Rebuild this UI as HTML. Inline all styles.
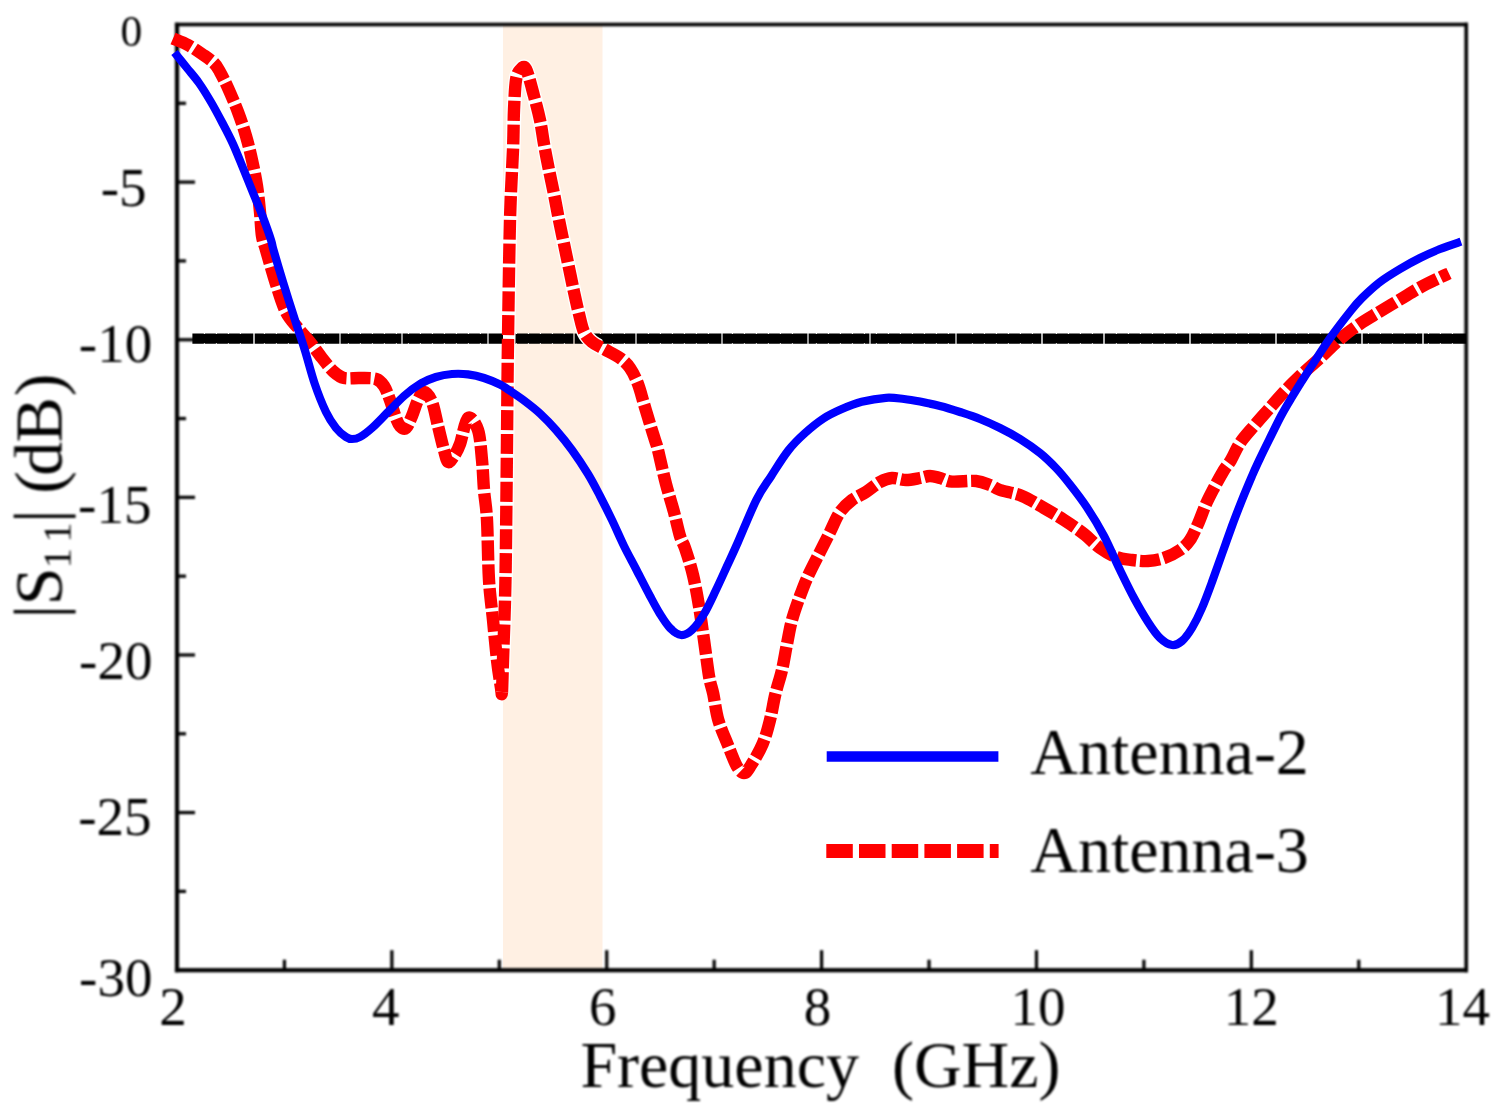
<!DOCTYPE html>
<html lang="en"><head><meta charset="utf-8"><title>|S11| (dB) versus Frequency (GHz)</title>
<style>
html,body{margin:0;padding:0;background:#fff;}
body{width:1502px;height:1115px;overflow:hidden;}
svg{display:block;}
text{font-family:"Liberation Serif","DejaVu Serif",serif;fill:#000;white-space:pre;}
</style></head><body>
<svg width="1502" height="1115" viewBox="0 0 1502 1115">
<defs><filter id="b" x="-5%" y="-5%" width="110%" height="110%"><feGaussianBlur stdDeviation="0.8"/></filter><filter id="c" x="-5%" y="-5%" width="110%" height="110%"><feGaussianBlur stdDeviation="0.45"/></filter><clipPath id="bandclip"><rect x="503" y="26" width="99.5" height="942"/></clipPath></defs>
<rect width="1502" height="1115" fill="#fff"/>
<rect x="503" y="24.5" width="99.5" height="945.7" fill="#fff0e3"/>
<g filter="url(#b)">
<g fill="#000">
<rect x="174.90" y="22.70" width="4.20" height="949.60"/>
<rect x="1464.40" y="22.70" width="3.60" height="949.60"/>
<rect x="174.90" y="22.70" width="1293.10" height="3.60"/>
<rect x="174.90" y="968.10" width="1293.10" height="4.20"/>
<rect x="282.83" y="959.70" width="3.20" height="10.50"/>
<rect x="390.27" y="950.20" width="3.20" height="20.00"/>
<rect x="497.70" y="959.70" width="3.20" height="10.50"/>
<rect x="605.13" y="950.20" width="3.20" height="20.00"/>
<rect x="712.57" y="959.70" width="3.20" height="10.50"/>
<rect x="820.00" y="950.20" width="3.20" height="20.00"/>
<rect x="927.43" y="959.70" width="3.20" height="10.50"/>
<rect x="1034.87" y="950.20" width="3.20" height="20.00"/>
<rect x="1142.30" y="959.70" width="3.20" height="10.50"/>
<rect x="1249.73" y="950.20" width="3.20" height="20.00"/>
<rect x="1357.17" y="959.70" width="3.20" height="10.50"/>
<rect x="177.00" y="101.71" width="9.00" height="3.20"/>
<rect x="177.00" y="180.52" width="18.00" height="3.20"/>
<rect x="177.00" y="259.32" width="9.00" height="3.20"/>
<rect x="177.00" y="338.13" width="18.00" height="3.20"/>
<rect x="177.00" y="416.94" width="9.00" height="3.20"/>
<rect x="177.00" y="495.75" width="18.00" height="3.20"/>
<rect x="177.00" y="574.56" width="9.00" height="3.20"/>
<rect x="177.00" y="653.37" width="18.00" height="3.20"/>
<rect x="177.00" y="732.17" width="9.00" height="3.20"/>
<rect x="177.00" y="810.98" width="18.00" height="3.20"/>
<rect x="177.00" y="889.79" width="9.00" height="3.20"/>
</g>
</g>
<g filter="url(#c)">
<path d="M192.4 338.7H253.3M254.7 338.7H339.4M340.6 338.7H401.4M402.6 338.7H487.4M488.6 338.7H573.4M574.6 338.7H635.4M636.6 338.7H721.4M722.6 338.7H807.4M808.6 338.7H869.4M870.6 338.7H955.4M956.6 338.7H1041.3M1042.7 338.7H1103.3M1104.7 338.7H1189.3M1190.7 338.7H1275.3M1276.7 338.7H1361.3M1362.7 338.7H1422.3M1423.7 338.7H1466.2" fill="none" stroke="#000" stroke-width="10.2"/>
<path d="M204.4 333.1v1.0M204.4 344.3v-1.0M216.4 333.1v1.0M216.4 344.3v-1.0M228.4 333.1v1.0M228.4 344.3v-1.0M240.4 333.1v1.0M240.4 344.3v-1.0M264.4 333.1v1.0M264.4 344.3v-1.0M276.4 333.1v1.0M276.4 344.3v-1.0M288.4 333.1v1.0M288.4 344.3v-1.0M300.4 333.1v1.0M300.4 344.3v-1.0M312.4 333.1v1.0M312.4 344.3v-1.0M324.4 333.1v1.0M324.4 344.3v-1.0M348.4 333.1v1.0M348.4 344.3v-1.0M360.4 333.1v1.0M360.4 344.3v-1.0M372.4 333.1v1.0M372.4 344.3v-1.0M384.4 333.1v1.0M384.4 344.3v-1.0M396.4 333.1v1.0M396.4 344.3v-1.0M408.4 333.1v1.0M408.4 344.3v-1.0M420.4 333.1v1.0M420.4 344.3v-1.0M432.4 333.1v1.0M432.4 344.3v-1.0M444.4 333.1v1.0M444.4 344.3v-1.0M456.4 333.1v1.0M456.4 344.3v-1.0M468.4 333.1v1.0M468.4 344.3v-1.0M480.4 333.1v1.0M480.4 344.3v-1.0M504.4 333.1v1.0M504.4 344.3v-1.0M516.4 333.1v1.0M516.4 344.3v-1.0M528.4 333.1v1.0M528.4 344.3v-1.0M540.4 333.1v1.0M540.4 344.3v-1.0M552.4 333.1v1.0M552.4 344.3v-1.0M564.4 333.1v1.0M564.4 344.3v-1.0M588.4 333.1v1.0M588.4 344.3v-1.0M600.4 333.1v1.0M600.4 344.3v-1.0M612.4 333.1v1.0M612.4 344.3v-1.0M624.4 333.1v1.0M624.4 344.3v-1.0M648.4 333.1v1.0M648.4 344.3v-1.0M660.4 333.1v1.0M660.4 344.3v-1.0M672.4 333.1v1.0M672.4 344.3v-1.0M684.4 333.1v1.0M684.4 344.3v-1.0M696.4 333.1v1.0M696.4 344.3v-1.0M708.4 333.1v1.0M708.4 344.3v-1.0M732.4 333.1v1.0M732.4 344.3v-1.0M744.4 333.1v1.0M744.4 344.3v-1.0M756.4 333.1v1.0M756.4 344.3v-1.0M768.4 333.1v1.0M768.4 344.3v-1.0M780.4 333.1v1.0M780.4 344.3v-1.0M792.4 333.1v1.0M792.4 344.3v-1.0M816.4 333.1v1.0M816.4 344.3v-1.0M828.4 333.1v1.0M828.4 344.3v-1.0M840.4 333.1v1.0M840.4 344.3v-1.0M852.4 333.1v1.0M852.4 344.3v-1.0M864.4 333.1v1.0M864.4 344.3v-1.0M876.4 333.1v1.0M876.4 344.3v-1.0M888.4 333.1v1.0M888.4 344.3v-1.0M900.4 333.1v1.0M900.4 344.3v-1.0M912.4 333.1v1.0M912.4 344.3v-1.0M924.4 333.1v1.0M924.4 344.3v-1.0M936.4 333.1v1.0M936.4 344.3v-1.0M948.4 333.1v1.0M948.4 344.3v-1.0M972.4 333.1v1.0M972.4 344.3v-1.0M984.4 333.1v1.0M984.4 344.3v-1.0M996.4 333.1v1.0M996.4 344.3v-1.0M1008.4 333.1v1.0M1008.4 344.3v-1.0M1020.4 333.1v1.0M1020.4 344.3v-1.0M1032.4 333.1v1.0M1032.4 344.3v-1.0M1056.4 333.1v1.0M1056.4 344.3v-1.0M1068.4 333.1v1.0M1068.4 344.3v-1.0M1080.4 333.1v1.0M1080.4 344.3v-1.0M1092.4 333.1v1.0M1092.4 344.3v-1.0M1116.4 333.1v1.0M1116.4 344.3v-1.0M1128.4 333.1v1.0M1128.4 344.3v-1.0M1140.4 333.1v1.0M1140.4 344.3v-1.0M1152.4 333.1v1.0M1152.4 344.3v-1.0M1164.4 333.1v1.0M1164.4 344.3v-1.0M1176.4 333.1v1.0M1176.4 344.3v-1.0M1200.4 333.1v1.0M1200.4 344.3v-1.0M1212.4 333.1v1.0M1212.4 344.3v-1.0M1224.4 333.1v1.0M1224.4 344.3v-1.0M1236.4 333.1v1.0M1236.4 344.3v-1.0M1248.4 333.1v1.0M1248.4 344.3v-1.0M1260.4 333.1v1.0M1260.4 344.3v-1.0M1284.4 333.1v1.0M1284.4 344.3v-1.0M1296.4 333.1v1.0M1296.4 344.3v-1.0M1308.4 333.1v1.0M1308.4 344.3v-1.0M1320.4 333.1v1.0M1320.4 344.3v-1.0M1332.4 333.1v1.0M1332.4 344.3v-1.0M1344.4 333.1v1.0M1344.4 344.3v-1.0M1356.4 333.1v1.0M1356.4 344.3v-1.0M1368.4 333.1v1.0M1368.4 344.3v-1.0M1380.4 333.1v1.0M1380.4 344.3v-1.0M1392.4 333.1v1.0M1392.4 344.3v-1.0M1404.4 333.1v1.0M1404.4 344.3v-1.0M1416.4 333.1v1.0M1416.4 344.3v-1.0M1428.4 333.1v1.0M1428.4 344.3v-1.0M1440.4 333.1v1.0M1440.4 344.3v-1.0M1452.4 333.1v1.0M1452.4 344.3v-1.0" fill="none" stroke="#fff" stroke-width="1.1"/>
<path d="M502.0 692.0C502.3 687.3 502.5 675.3 503.0 660.0C503.5 644.7 504.5 620.0 505.0 600.0C505.5 580.0 505.7 566.7 506.0 540.0C506.3 513.3 506.7 473.3 507.0 440.0C507.3 406.7 507.5 376.7 508.0 340.0C508.5 303.3 509.2 251.7 510.0 220.0C510.8 188.3 512.3 168.3 513.0 150.0C513.7 131.7 513.5 121.7 514.0 110.0C514.5 98.3 515.0 86.7 516.0 80.0C517.0 73.3 518.3 71.8 520.0 70.0C521.7 68.2 523.7 64.7 526.0 69.0C528.3 73.3 531.7 87.5 534.0 96.0C536.3 104.5 538.3 112.0 540.0 120.0C541.7 128.0 542.5 135.7 544.0 144.0C545.5 152.3 547.3 161.7 549.0 170.0C550.7 178.3 552.3 185.7 554.0 194.0C555.7 202.3 557.3 211.7 559.0 220.0C560.7 228.3 562.3 236.0 564.0 244.0C565.7 252.0 567.3 260.0 569.0 268.0C570.7 276.0 572.3 284.3 574.0 292.0C575.7 299.7 577.3 307.3 579.0 314.0C580.7 320.7 581.8 327.3 584.0 332.0C586.2 336.7 588.7 339.2 592.0 342.0C595.3 344.8 599.3 346.3 604.0 349.0C608.7 351.7 615.7 354.8 620.0 358.0C624.3 361.2 627.0 363.7 630.0 368.0C633.0 372.3 635.7 378.0 638.0 384.0C640.3 390.0 642.0 397.3 644.0 404.0C646.0 410.7 648.2 418.0 650.0 424.0C651.8 430.0 653.7 435.7 655.0 440.0C656.3 444.3 656.2 442.7 658.0 450.0C659.8 457.3 663.3 473.7 666.0 484.0C668.7 494.3 671.7 503.3 674.0 512.0C676.3 520.7 678.2 530.0 680.0 536.0C681.8 542.0 682.8 541.5 685.0 548.0C687.2 554.5 690.7 565.3 693.0 575.0C695.3 584.7 697.2 595.2 699.0 606.0C700.8 616.8 702.3 628.3 704.0 640.0C705.7 651.7 707.5 667.0 709.0 676.0C710.5 685.0 711.8 686.7 713.3 694.0C714.8 701.3 715.9 711.7 718.3 720.0C720.7 728.3 724.4 736.3 727.5 744.0C730.6 751.7 734.0 761.2 736.7 766.0C739.5 770.8 741.7 773.0 744.0 773.0C746.3 773.0 747.4 770.8 750.5 766.0C753.6 761.2 759.4 751.7 762.6 744.0C765.9 736.3 767.9 728.3 770.0 720.0C772.1 711.7 773.4 702.3 775.4 694.0C777.4 685.7 780.1 678.3 782.0 670.0C783.9 661.7 785.3 652.3 787.0 644.0C788.7 635.7 789.8 628.0 792.0 620.0C794.2 612.0 797.3 603.3 800.0 596.0C802.7 588.7 804.7 583.3 808.0 576.0C811.3 568.7 816.3 559.3 820.0 552.0C823.7 544.7 826.7 538.7 830.0 532.0C833.3 525.3 836.3 517.3 840.0 512.0C843.7 506.7 847.7 503.3 852.0 500.0C856.3 496.7 861.3 495.0 866.0 492.0C870.7 489.0 875.7 484.3 880.0 482.0C884.3 479.7 887.7 478.3 892.0 478.0C896.3 477.7 901.3 480.0 906.0 480.0C910.7 480.0 916.0 478.7 920.0 478.0C924.0 477.3 926.7 476.0 930.0 476.0C933.3 476.0 936.3 477.1 940.0 478.0C943.7 478.9 946.0 481.1 952.0 481.6C958.0 482.1 969.7 480.4 976.0 481.0C982.3 481.6 986.0 483.5 990.0 485.0C994.0 486.5 994.7 488.2 1000.0 490.0C1005.3 491.8 1014.7 493.0 1022.0 496.0C1029.3 499.0 1037.0 504.0 1044.0 508.0C1051.0 512.0 1057.3 515.7 1064.0 520.0C1070.7 524.3 1078.0 529.3 1084.0 534.0C1090.0 538.7 1094.7 544.2 1100.0 548.0C1105.3 551.8 1110.7 555.0 1116.0 557.0C1121.3 559.0 1126.7 559.3 1132.0 560.0C1137.3 560.7 1142.7 561.3 1148.0 561.0C1153.3 560.7 1158.7 559.8 1164.0 558.0C1169.3 556.2 1175.7 553.0 1180.0 550.0C1184.3 547.0 1187.0 544.3 1190.0 540.0C1193.0 535.7 1195.3 530.0 1198.0 524.0C1200.7 518.0 1203.3 510.0 1206.0 504.0C1208.7 498.0 1211.0 493.7 1214.0 488.0C1217.0 482.3 1221.2 474.7 1224.0 470.0C1226.8 465.3 1228.3 464.5 1231.0 460.0C1233.7 455.5 1236.2 448.7 1240.0 443.0C1243.8 437.3 1249.3 431.5 1254.0 426.0C1258.7 420.5 1263.0 415.7 1268.0 410.0C1273.0 404.3 1278.7 397.7 1284.0 392.0C1289.3 386.3 1294.0 381.7 1300.0 376.0C1306.0 370.3 1313.3 364.2 1320.0 358.0C1326.7 351.8 1333.3 344.7 1340.0 339.0C1346.7 333.3 1353.3 328.4 1360.0 323.8C1366.7 319.2 1373.3 315.6 1380.0 311.5C1386.7 307.4 1393.3 303.5 1400.0 299.5C1406.7 295.5 1413.3 291.2 1420.0 287.5C1426.7 283.8 1435.2 279.8 1440.0 277.5C1444.8 275.2 1447.5 274.2 1449.0 273.5" fill="none" stroke="#fff" stroke-width="15.0" clip-path="url(#bandclip)"/>
<path d="M173.0 38.5C175.5 39.6 183.2 42.4 188.0 45.0C192.8 47.6 197.7 51.0 202.0 54.0C206.3 57.0 211.0 60.0 214.0 63.0C217.0 66.0 217.7 67.8 220.0 72.0C222.3 76.2 225.0 81.3 228.0 88.0C231.0 94.7 235.0 104.0 238.0 112.0C241.0 120.0 243.7 128.0 246.0 136.0C248.3 144.0 250.2 151.7 252.0 160.0C253.8 168.3 255.7 177.3 257.0 186.0C258.3 194.7 259.2 203.7 260.0 212.0C260.8 220.3 261.0 229.7 262.0 236.0C263.0 242.3 263.7 242.0 266.0 250.0C268.3 258.0 272.7 273.7 276.0 284.0C279.3 294.3 282.3 304.7 286.0 312.0C289.7 319.3 294.0 323.0 298.0 328.0C302.0 333.0 306.0 337.0 310.0 342.0C314.0 347.0 318.0 353.0 322.0 358.0C326.0 363.0 330.3 368.7 334.0 372.0C337.7 375.3 339.7 377.0 344.0 378.0C348.3 379.0 354.7 377.8 360.0 378.0C365.3 378.2 372.0 377.7 376.0 379.0C380.0 380.3 381.7 382.5 384.0 386.0C386.3 389.5 388.0 394.7 390.0 400.0C392.0 405.3 394.3 413.7 396.0 418.0C397.7 422.3 398.3 424.3 400.0 426.0C401.7 427.7 404.0 429.7 406.0 428.0C408.0 426.3 410.0 420.7 412.0 416.0C414.0 411.3 416.0 404.0 418.0 400.0C420.0 396.0 421.7 391.7 424.0 392.0C426.3 392.3 429.7 396.3 432.0 402.0C434.3 407.7 436.0 418.0 438.0 426.0C440.0 434.0 442.3 444.0 444.0 450.0C445.7 456.0 446.3 461.0 448.0 462.0C449.7 463.0 452.0 459.0 454.0 456.0C456.0 453.0 457.7 450.3 460.0 444.0C462.3 437.7 465.0 420.3 468.0 418.0C471.0 415.7 475.7 423.0 478.0 430.0C480.3 437.0 481.0 450.0 482.0 460.0C483.0 470.0 483.2 480.0 484.0 490.0C484.8 500.0 486.2 505.0 487.0 520.0C487.8 535.0 488.0 563.3 489.0 580.0C490.0 596.7 491.7 606.7 493.0 620.0C494.3 633.3 495.7 648.7 497.0 660.0C498.3 671.3 500.2 682.7 501.0 688.0C501.8 693.3 501.7 696.7 502.0 692.0" fill="none" stroke="#f00" stroke-width="12.4" stroke-dasharray="20 3.8" stroke-linejoin="round"/>
<path d="M502.0 692.0C502.3 687.3 502.5 675.3 503.0 660.0C503.5 644.7 504.5 620.0 505.0 600.0C505.5 580.0 505.7 566.7 506.0 540.0C506.3 513.3 506.7 473.3 507.0 440.0C507.3 406.7 507.5 376.7 508.0 340.0C508.5 303.3 509.2 251.7 510.0 220.0C510.8 188.3 512.3 168.3 513.0 150.0C513.7 131.7 513.5 121.7 514.0 110.0C514.5 98.3 515.0 86.7 516.0 80.0C517.0 73.3 518.3 71.8 520.0 70.0C521.7 68.2 523.7 64.7 526.0 69.0C528.3 73.3 531.7 87.5 534.0 96.0C536.3 104.5 538.3 112.0 540.0 120.0C541.7 128.0 542.5 135.7 544.0 144.0C545.5 152.3 547.3 161.7 549.0 170.0C550.7 178.3 552.3 185.7 554.0 194.0C555.7 202.3 557.3 211.7 559.0 220.0C560.7 228.3 562.3 236.0 564.0 244.0C565.7 252.0 567.3 260.0 569.0 268.0C570.7 276.0 572.3 284.3 574.0 292.0C575.7 299.7 577.3 307.3 579.0 314.0C580.7 320.7 581.8 327.3 584.0 332.0C586.2 336.7 588.7 339.2 592.0 342.0C595.3 344.8 599.3 346.3 604.0 349.0C608.7 351.7 615.7 354.8 620.0 358.0C624.3 361.2 627.0 363.7 630.0 368.0C633.0 372.3 635.7 378.0 638.0 384.0C640.3 390.0 642.0 397.3 644.0 404.0C646.0 410.7 648.2 418.0 650.0 424.0C651.8 430.0 653.7 435.7 655.0 440.0C656.3 444.3 656.2 442.7 658.0 450.0C659.8 457.3 663.3 473.7 666.0 484.0C668.7 494.3 671.7 503.3 674.0 512.0C676.3 520.7 678.2 530.0 680.0 536.0C681.8 542.0 682.8 541.5 685.0 548.0C687.2 554.5 690.7 565.3 693.0 575.0C695.3 584.7 697.2 595.2 699.0 606.0C700.8 616.8 702.3 628.3 704.0 640.0C705.7 651.7 707.5 667.0 709.0 676.0C710.5 685.0 711.8 686.7 713.3 694.0C714.8 701.3 715.9 711.7 718.3 720.0C720.7 728.3 724.4 736.3 727.5 744.0C730.6 751.7 734.0 761.2 736.7 766.0C739.5 770.8 741.7 773.0 744.0 773.0C746.3 773.0 747.4 770.8 750.5 766.0C753.6 761.2 759.4 751.7 762.6 744.0C765.9 736.3 767.9 728.3 770.0 720.0C772.1 711.7 773.4 702.3 775.4 694.0C777.4 685.7 780.1 678.3 782.0 670.0C783.9 661.7 785.3 652.3 787.0 644.0C788.7 635.7 789.8 628.0 792.0 620.0C794.2 612.0 797.3 603.3 800.0 596.0C802.7 588.7 804.7 583.3 808.0 576.0C811.3 568.7 816.3 559.3 820.0 552.0C823.7 544.7 826.7 538.7 830.0 532.0C833.3 525.3 836.3 517.3 840.0 512.0C843.7 506.7 847.7 503.3 852.0 500.0C856.3 496.7 861.3 495.0 866.0 492.0C870.7 489.0 875.7 484.3 880.0 482.0C884.3 479.7 887.7 478.3 892.0 478.0C896.3 477.7 901.3 480.0 906.0 480.0C910.7 480.0 916.0 478.7 920.0 478.0C924.0 477.3 926.7 476.0 930.0 476.0C933.3 476.0 936.3 477.1 940.0 478.0C943.7 478.9 946.0 481.1 952.0 481.6C958.0 482.1 969.7 480.4 976.0 481.0C982.3 481.6 986.0 483.5 990.0 485.0C994.0 486.5 994.7 488.2 1000.0 490.0C1005.3 491.8 1014.7 493.0 1022.0 496.0C1029.3 499.0 1037.0 504.0 1044.0 508.0C1051.0 512.0 1057.3 515.7 1064.0 520.0C1070.7 524.3 1078.0 529.3 1084.0 534.0C1090.0 538.7 1094.7 544.2 1100.0 548.0C1105.3 551.8 1110.7 555.0 1116.0 557.0C1121.3 559.0 1126.7 559.3 1132.0 560.0C1137.3 560.7 1142.7 561.3 1148.0 561.0C1153.3 560.7 1158.7 559.8 1164.0 558.0C1169.3 556.2 1175.7 553.0 1180.0 550.0C1184.3 547.0 1187.0 544.3 1190.0 540.0C1193.0 535.7 1195.3 530.0 1198.0 524.0C1200.7 518.0 1203.3 510.0 1206.0 504.0C1208.7 498.0 1211.0 493.7 1214.0 488.0C1217.0 482.3 1221.2 474.7 1224.0 470.0C1226.8 465.3 1228.3 464.5 1231.0 460.0C1233.7 455.5 1236.2 448.7 1240.0 443.0C1243.8 437.3 1249.3 431.5 1254.0 426.0C1258.7 420.5 1263.0 415.7 1268.0 410.0C1273.0 404.3 1278.7 397.7 1284.0 392.0C1289.3 386.3 1294.0 381.7 1300.0 376.0C1306.0 370.3 1313.3 364.2 1320.0 358.0C1326.7 351.8 1333.3 344.7 1340.0 339.0C1346.7 333.3 1353.3 328.4 1360.0 323.8C1366.7 319.2 1373.3 315.6 1380.0 311.5C1386.7 307.4 1393.3 303.5 1400.0 299.5C1406.7 295.5 1413.3 291.2 1420.0 287.5C1426.7 283.8 1435.2 279.8 1440.0 277.5C1444.8 275.2 1447.5 274.2 1449.0 273.5" fill="none" stroke="#f00" stroke-width="12.4" stroke-dasharray="20 3.8" stroke-dashoffset="0" stroke-linejoin="round"/>
<path d="M174.5 52.5C176.6 55.1 182.9 62.9 187.0 68.0C191.1 73.1 195.0 77.3 199.0 83.0C203.0 88.7 207.0 95.2 211.0 102.0C215.0 108.8 219.3 117.0 223.0 124.0C226.7 131.0 229.7 136.7 233.0 144.0C236.3 151.3 239.6 159.7 243.0 168.0C246.4 176.3 250.2 186.0 253.5 194.0C256.8 202.0 259.6 208.3 262.5 216.0C265.4 223.7 269.2 234.3 271.0 240.0C272.8 245.7 271.5 243.0 273.5 250.0C275.5 257.0 279.4 270.3 283.0 282.0C286.6 293.7 291.4 308.7 295.0 320.0C298.6 331.3 301.5 339.3 304.8 350.0C308.1 360.7 311.3 373.7 314.8 384.0C318.3 394.3 322.5 404.7 326.0 412.0C329.5 419.3 332.7 423.8 336.0 428.0C339.3 432.2 343.3 435.2 346.0 437.0C348.7 438.8 349.7 439.0 352.0 439.0C354.3 439.0 356.7 438.8 360.0 437.0C363.3 435.2 367.3 432.2 372.0 428.0C376.7 423.8 382.7 417.3 388.0 412.0C393.3 406.7 398.7 400.7 404.0 396.0C409.3 391.3 414.7 387.2 420.0 384.0C425.3 380.8 430.7 378.7 436.0 377.0C441.3 375.3 446.7 374.4 452.0 374.0C457.3 373.6 462.7 373.7 468.0 374.4C473.3 375.1 478.7 376.3 484.0 378.0C489.3 379.7 496.0 382.6 500.0 384.5C504.0 386.4 504.0 386.8 508.0 389.5C512.0 392.2 518.7 396.5 524.0 400.5C529.3 404.5 534.7 408.6 540.0 413.5C545.3 418.4 550.7 423.9 556.0 430.0C561.3 436.1 566.7 442.7 572.0 450.0C577.3 457.3 583.3 466.3 588.0 474.0C592.7 481.7 596.0 488.3 600.0 496.0C604.0 503.7 608.0 511.7 612.0 520.0C616.0 528.3 620.0 537.8 624.0 546.0C628.0 554.2 631.7 560.7 636.0 569.0C640.3 577.3 646.0 588.5 650.0 596.0C654.0 603.5 656.7 608.7 660.0 614.0C663.3 619.3 666.5 624.5 670.0 628.0C673.5 631.5 677.3 634.7 681.0 635.0C684.7 635.3 688.2 633.5 692.0 630.0C695.8 626.5 700.0 620.7 704.0 614.0C708.0 607.3 712.0 598.3 716.0 590.0C720.0 581.7 724.3 572.0 728.0 564.0C731.7 556.0 733.3 552.7 738.0 542.0C742.7 531.3 750.9 510.8 756.4 499.8C761.9 488.8 766.0 484.1 771.3 475.9C776.6 467.7 782.6 457.7 788.2 450.6C793.8 443.5 798.9 438.6 804.8 433.3C810.6 428.0 817.2 422.6 823.3 418.6C829.4 414.6 834.9 412.1 841.3 409.3C847.7 406.5 854.2 403.7 861.7 401.8C869.2 399.9 879.0 398.3 886.0 397.8C893.0 397.3 898.3 398.4 904.0 399.0C909.7 399.6 914.0 400.4 920.0 401.6C926.0 402.8 933.3 404.3 940.0 406.0C946.7 407.7 953.3 409.8 960.0 412.0C966.7 414.2 973.3 416.3 980.0 419.0C986.7 421.7 993.3 424.7 1000.0 428.0C1006.7 431.3 1013.3 434.8 1020.0 439.0C1026.7 443.2 1034.0 448.2 1040.0 453.0C1046.0 457.8 1051.0 462.8 1056.0 468.0C1061.0 473.2 1064.8 477.9 1070.0 484.5C1075.2 491.1 1081.3 498.9 1087.0 507.5C1092.7 516.1 1098.5 525.6 1104.0 536.0C1109.5 546.4 1115.0 559.7 1120.0 570.0C1125.0 580.3 1129.3 589.3 1134.0 598.0C1138.7 606.7 1143.7 615.3 1148.0 622.0C1152.3 628.7 1156.0 634.2 1160.0 638.0C1164.0 641.8 1168.3 644.5 1172.0 645.0C1175.7 645.5 1178.7 643.8 1182.0 641.0C1185.3 638.2 1188.7 633.5 1192.0 628.0C1195.3 622.5 1198.7 615.7 1202.0 608.0C1205.3 600.3 1208.7 591.0 1212.0 582.0C1215.3 573.0 1218.7 563.3 1222.0 554.0C1225.3 544.7 1228.7 535.0 1232.0 526.0C1235.3 517.0 1238.7 508.3 1242.0 500.0C1245.3 491.7 1249.1 482.8 1252.0 476.0C1254.9 469.2 1256.7 465.5 1259.5 459.5C1262.3 453.5 1265.4 447.2 1269.0 440.0C1272.6 432.8 1277.3 422.9 1281.0 416.0C1284.7 409.1 1287.8 404.0 1291.0 398.7C1294.2 393.4 1296.8 389.0 1300.0 384.0C1303.2 379.0 1305.0 376.1 1310.0 368.5C1315.0 360.9 1322.8 348.4 1329.7 338.6C1336.6 328.9 1346.0 316.8 1351.4 310.0C1356.8 303.2 1357.2 302.7 1362.0 298.0C1366.8 293.3 1373.7 286.8 1380.0 282.0C1386.3 277.2 1393.3 273.0 1400.0 269.0C1406.7 265.0 1413.3 261.3 1420.0 258.0C1426.7 254.7 1433.2 251.7 1440.0 249.0C1446.8 246.3 1457.5 242.8 1461.0 241.6" fill="none" stroke="#00f" stroke-width="8.2" stroke-linejoin="round"/>
<path d="M826.7 756.5H998.4" fill="none" stroke="#00f" stroke-width="10.5"/>
<path d="M826.3 851.1H998.6" fill="none" stroke="#f00" stroke-width="14" stroke-dasharray="26.5 6.2"/>
</g>
<g filter="url(#b)">
<text x="142.3" y="46.4" font-size="43.5" text-anchor="end" id="y0">0</text>
<text x="146.5" y="205.6" font-size="55" text-anchor="end" id="y5">-5</text>
<text x="152.2" y="362.0" font-size="55" text-anchor="end" id="y10">-10</text>
<text x="151.4" y="522.9" font-size="55" text-anchor="end" id="y15">-15</text>
<text x="152.4" y="679.1" font-size="55" text-anchor="end" id="y20">-20</text>
<text x="151.5" y="835.0" font-size="55" text-anchor="end" id="y25">-25</text>
<text x="152.4" y="996.4" font-size="55" text-anchor="end" id="y30">-30</text>
<text x="173.0" y="1025.0" font-size="55" text-anchor="middle" id="x2">2</text>
<text x="385.8" y="1025.0" font-size="55" text-anchor="middle" id="x4">4</text>
<text x="602.7" y="1025.0" font-size="55" text-anchor="middle" id="x6">6</text>
<text x="817.6" y="1025.0" font-size="55" text-anchor="middle" id="x8">8</text>
<text x="1037.9" y="1025.0" font-size="55" text-anchor="middle" id="x10">10</text>
<text x="1251.2" y="1025.0" font-size="55" text-anchor="middle" id="x12">12</text>
<text x="1462.5" y="1025.0" font-size="55" text-anchor="middle" id="x14">14</text>
<text x="580.4" y="1087.1" font-size="66" id="xl">Frequency  (GHz)</text>
<text font-size="68" transform="translate(61.6,0) rotate(-90)" id="yl"><tspan x="-618.41 -605.37">|S</tspan><tspan x="-568.52 -542.82" dy="9" font-size="41">11</tspan><tspan x="-523.01 -505 -493.72 -475.81 -442.4 -396.32" dy="-9">| (dB)</tspan></text>
<text x="1030.3" y="773.6" font-size="66" id="l2">Antenna-2</text>
<text x="1030.3" y="871.6" font-size="66" id="l3">Antenna-3</text>
</g>
</svg>
</body></html>
